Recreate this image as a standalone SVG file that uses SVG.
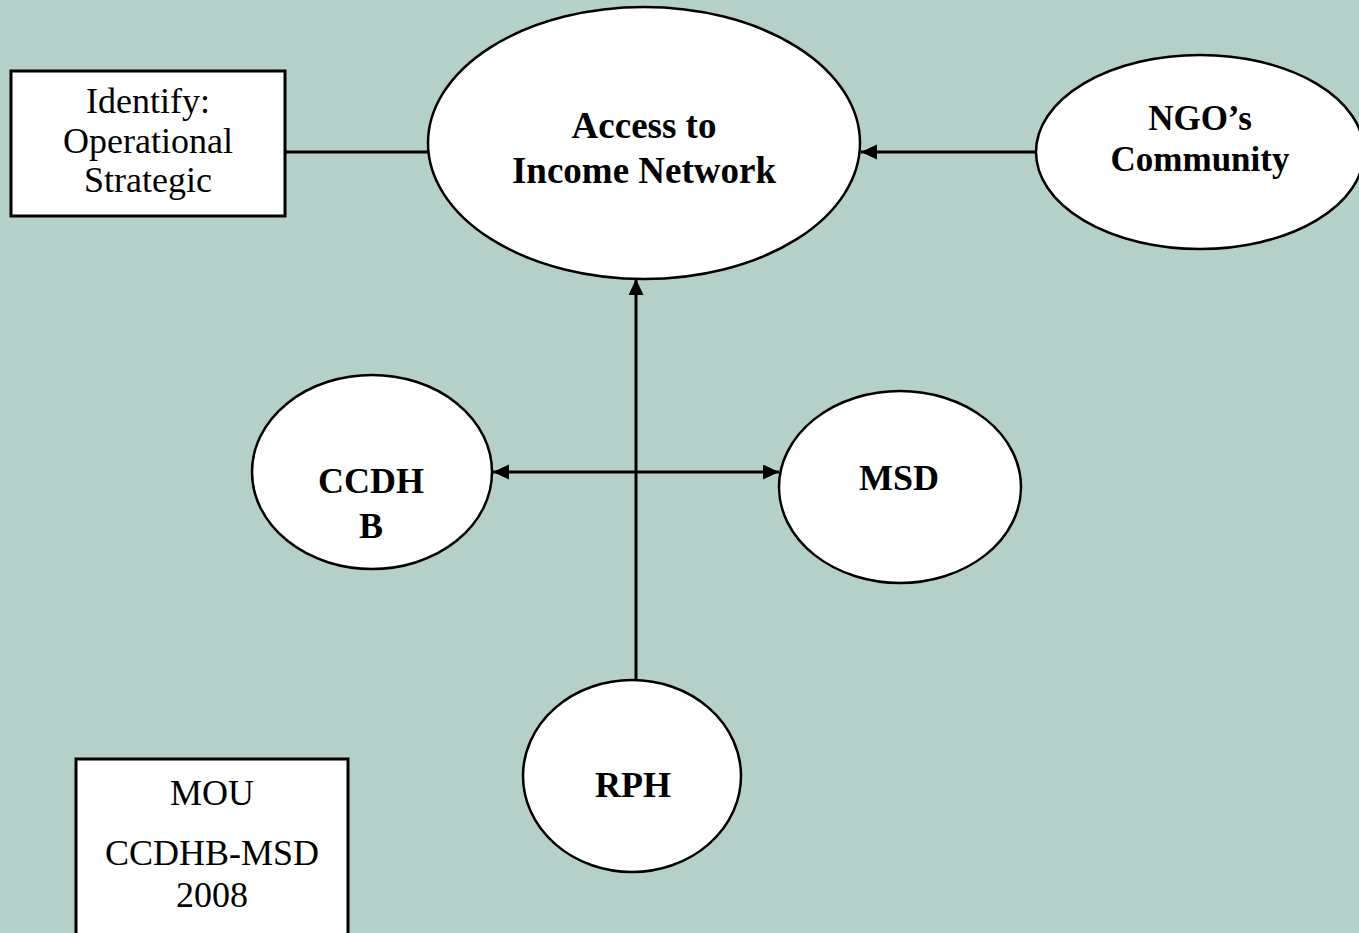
<svg xmlns="http://www.w3.org/2000/svg" width="1359" height="933" viewBox="0 0 1359 933">
<defs>
<style>
.node{fill:#fff;stroke:#000;stroke-width:2.5}
.box{fill:#fff;stroke:#000;stroke-width:3}
.conn{stroke:#000;stroke-width:3;fill:none}
.b{font-family:"Liberation Serif","Times New Roman",serif;font-weight:bold;font-size:36px;text-anchor:middle;fill:#000}
.r{font-family:"Liberation Serif","Times New Roman",serif;font-size:36px;text-anchor:middle;fill:#000}
</style>
<marker id="ah" markerUnits="userSpaceOnUse" markerWidth="17" markerHeight="16" refX="16" refY="7.5" orient="auto-start-reverse">
<path d="M0,0 L16,7.5 L0,15 z" fill="#000"/>
</marker>
</defs>
<rect x="0" y="0" width="1359" height="933" fill="#b5cfc9"/>
<g id="connectors">
<line class="conn" x1="285" y1="152" x2="428" y2="152"/>
<line class="conn" x1="1036" y1="152" x2="861" y2="152" marker-end="url(#ah)"/>
<line class="conn" x1="636" y1="680" x2="636" y2="279" marker-end="url(#ah)"/>
<line class="conn" x1="493" y1="472" x2="779" y2="472" marker-start="url(#ah)" marker-end="url(#ah)"/>
</g>
<g id="identify">
<rect class="box" x="11" y="71" width="274" height="145"/>
<text class="r" x="148" y="113">Identify:</text>
<text class="r" x="148" y="153">Operational</text>
<text class="r" x="148" y="192">Strategic</text>
</g>
<g id="access">
<ellipse class="node" cx="644" cy="143" rx="216" ry="136"/>
<text class="b" x="644" y="138" style="font-size:37px">Access to</text>
<text class="b" x="644" y="183" style="font-size:37px">Income Network</text>
</g>
<g id="ngo">
<ellipse class="node" cx="1200" cy="152" rx="164" ry="97"/>
<text class="b" x="1200" y="130" style="font-size:35px">NGO’s</text>
<text class="b" x="1200" y="171" style="font-size:35px">Community</text>
</g>
<g id="ccdhb">
<ellipse class="node" cx="372" cy="472" rx="120" ry="97"/>
<text class="b" x="371" y="493">CCDH</text>
<text class="b" x="371" y="538">B</text>
</g>
<g id="msd">
<ellipse class="node" cx="900" cy="487" rx="121" ry="96"/>
<text class="b" x="899" y="490">MSD</text>
</g>
<g id="rph">
<ellipse class="node" cx="632" cy="776" rx="109" ry="96"/>
<text class="b" x="633" y="797">RPH</text>
</g>
<g id="mou">
<rect class="box" x="76" y="759" width="272" height="190"/>
<text class="r" x="212" y="805">MOU</text>
<text class="r" x="212" y="865">CCDHB-MSD</text>
<text class="r" x="212" y="907">2008</text>
</g>
</svg>
